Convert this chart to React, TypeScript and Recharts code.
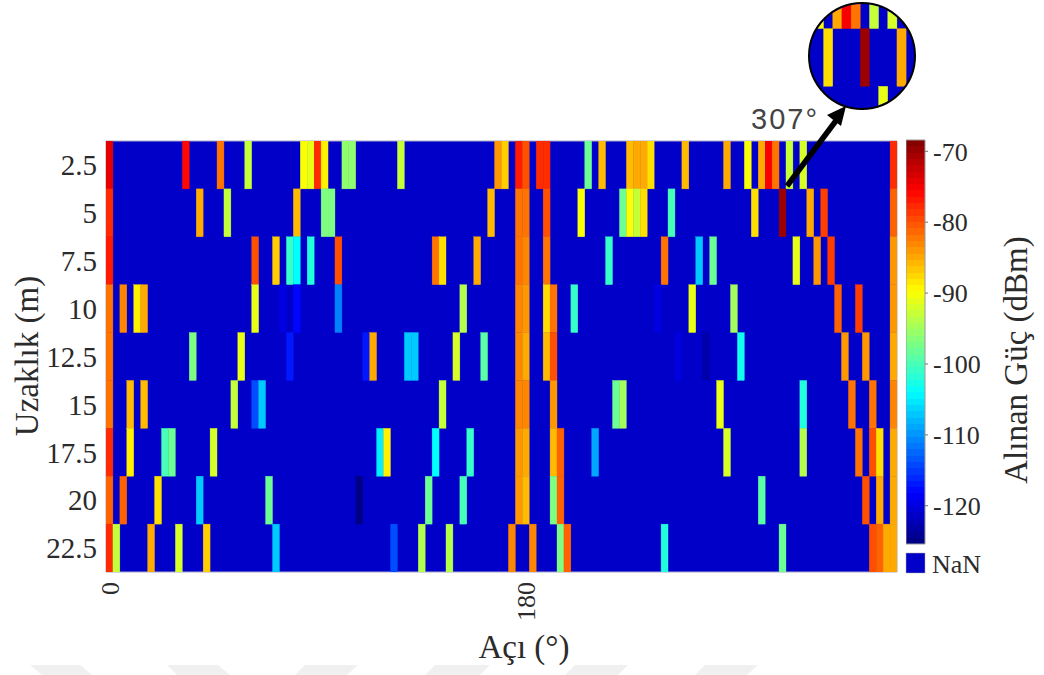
import React from "react";
import { ScatterChart, Scatter, XAxis, YAxis, ReferenceArea } from "recharts";

type Reading = [number, number]; // [angle cell index, received power in dBm]

const ANGLE_STEP = 3;
const CELL_COUNT = 114;
const RANGE_TICKS = [2.5, 5, 7.5, 10, 12.5, 15, 17.5, 20, 22.5];
const ANGLE_TICKS = [0, 180];
const POWER_TICKS = [-70, -80, -90, -100, -110, -120];
const POWER_MIN = -125.4;
const POWER_MAX = -68.4;
const NAN_COLOR = "#0000c8";

const row2_5: Reading[] = [[0,-74],[11,-76],[16,-82],[20,-93],[28,-90],[29,-91],[30,-78],[31,-89],[34,-96],[35,-96],[42,-93],[56,-84],[57,-87],[59,-77],[60,-80],[62,-78],[63,-78],[69,-98],[71,-86],[75,-86],[76,-85],[77,-85],[78,-88],[83,-86],[89,-85],[92,-90],[94,-85],[95,-75],[96,-82],[98,-93],[100,-92],[113,-78]];
const row5: Reading[] = [[0,-78],[13,-85],[17,-93],[27,-86],[31,-97],[32,-97],[55,-86],[59,-82],[60,-82],[63,-80],[68,-90],[74,-98],[75,-90],[76,-93],[77,-88],[81,-100],[93,-88],[97,-70],[101,-85],[103,-79],[113,-81]];
const row7_5: Reading[] = [[0,-77],[21,-80],[24,-87],[26,-101],[27,-104],[29,-102],[33,-80],[47,-82],[48,-88],[53,-85],[59,-82],[60,-83],[63,-82],[72,-101],[80,-82],[85,-107],[87,-98],[99,-91],[102,-84],[104,-79],[113,-84]];
const row10: Reading[] = [[0,-82],[2,-83],[4,-89],[5,-85],[21,-91],[25,-120],[27,-118],[33,-111],[51,-94],[59,-83],[60,-84],[63,-88],[64,-82],[67,-101],[79,-120],[84,-91],[90,-95],[105,-81],[108,-79],[113,-84]];
const row12_5: Reading[] = [[0,-82],[12,-97],[19,-91],[26,-117],[37,-117],[38,-85],[43,-107],[44,-107],[50,-92],[54,-99],[59,-83],[60,-85],[63,-86],[64,-80],[82,-120],[86,-123],[91,-103],[106,-84],[109,-84],[113,-85]];
const row15: Reading[] = [[0,-82],[3,-86],[5,-86],[18,-93],[21,-114],[22,-107],[48,-93],[59,-83],[60,-83],[64,-84],[73,-98],[74,-95],[88,-91],[100,-102],[107,-82],[110,-82],[113,-83]];
const row17_5: Reading[] = [[0,-78],[3,-89],[8,-100],[9,-98],[15,-92],[39,-105],[40,-89],[47,-104],[52,-101],[59,-84],[60,-85],[64,-86],[65,-81],[70,-109],[89,-92],[100,-94],[108,-82],[110,-80],[111,-88],[113,-85]];
const row20: Reading[] = [[0,-81],[2,-81],[7,-88],[13,-107],[23,-98],[36,-125],[46,-98],[51,-100],[59,-84],[60,-86],[64,-97],[65,-81],[94,-99],[109,-80],[111,-85],[113,-85]];
const row22_5: Reading[] = [[0,-78],[1,-93],[6,-85],[10,-92],[14,-87],[24,-107],[41,-114],[45,-94],[49,-94],[58,-83],[61,-83],[65,-97],[66,-81],[80,-102],[97,-98],[110,-80],[111,-81],[112,-85],[113,-85]];

const ROWS: Reading[][] = [row2_5, row5, row7_5, row10, row12_5, row15, row17_5, row20, row22_5];

const cells = ROWS.flatMap((row, r) =>
  row.map(([i, v]) => ({ angle: i * ANGLE_STEP, range: RANGE_TICKS[r], power: v }))
);

function jet(t: number): string {
  const c = (x: number) => Math.round(255 * Math.max(0, Math.min(1, x)));
  const r = c(Math.min(4 * t - 1.5, -4 * t + 4.5));
  const g = c(Math.min(4 * t - 0.5, -4 * t + 3.5));
  const b = c(Math.min(4 * t + 0.5, -4 * t + 2.5));
  return `rgb(${r},${g},${b})`;
}
const powerColor = (v: number) => jet((v - POWER_MIN) / (POWER_MAX - POWER_MIN));

const BAND_COUNT = 64;
const jetBands = Array.from({ length: BAND_COUNT }, (_, i) => i);

const SERIF = '"Liberation Serif", "Times New Roman", serif';
const SANS = '"Liberation Sans", Arial, sans-serif';
const TEXT = "#2b2b2b";

const cellShape = (w: number, h: number) => (p: any) => {
  const fill = powerColor(p.payload.power);
  return (
    <rect
      x={p.cx - w / 2}
      y={p.cy - h / 2}
      width={w}
      height={h}
      fill={fill}
      stroke={fill}
      strokeWidth={0.35}
    />
  );
};

const AngleTick = (p: any) => (
  <text
    transform={`translate(${p.x + 1},${582}) rotate(-90)`}
    textAnchor="end"
    dominantBaseline="central"
    fontFamily={SERIF}
    fontSize={26}
    fill={TEXT}
  >
    {p.payload.value}
  </text>
);

const MAIN_W = 791;
const MAIN_H = 431;
const cellW = MAIN_W / CELL_COUNT;
const cellH = MAIN_H / RANGE_TICKS.length;

function MainChart() {
  return (
    <ScatterChart
      width={1044}
      height={675}
      margin={{ top: 141, left: 36, right: 147, bottom: 63 }}
    >
      <XAxis
        type="number"
        dataKey="angle"
        domain={[-1.5, (CELL_COUNT - 0.5) * ANGLE_STEP]}
        ticks={ANGLE_TICKS}
        tick={AngleTick}
        tickLine={false}
        axisLine={false}
        height={40}
        interval={0}
        allowDataOverflow
      />
      <YAxis
        type="number"
        dataKey="range"
        reversed
        domain={[1.25, 23.75]}
        ticks={RANGE_TICKS}
        width={70}
        tickLine={false}
        axisLine={false}
        interval={0}
        tick={{ fontFamily: SERIF, fontSize: 29, fill: TEXT }}
        tickMargin={3}
        allowDataOverflow
      />
      <ReferenceArea
        x1={-1.5}
        x2={(CELL_COUNT - 0.5) * ANGLE_STEP}
        y1={1.25}
        y2={23.75}
        fill={NAN_COLOR}
        fillOpacity={1}
        stroke="#a8a8c8"
        strokeWidth={1}
      />
      <Scatter data={cells} isAnimationActive={false} shape={cellShape(cellW, cellH)} />
    </ScatterChart>
  );
}

function ColorBar() {
  const bandStops = jetBands.flatMap((i) => {
    const color = jet(1 - (i + 0.5) / BAND_COUNT);
    return [
      <stop key={`${i}a`} offset={i / BAND_COUNT} stopColor={color} />,
      <stop key={`${i}b`} offset={(i + 1) / BAND_COUNT} stopColor={color} />,
    ];
  });
  return (
    <ScatterChart
      width={100}
      height={424}
      margin={{ top: 10, left: 0, right: 0, bottom: 10 }}
    >
      <defs>
        <linearGradient id="jetBar" x1="0" y1="0" x2="0" y2="1">
          {bandStops}
        </linearGradient>
      </defs>
      <XAxis type="number" dataKey="x" domain={[0, 1]} hide />
      <YAxis
        type="number"
        dataKey="y"
        orientation="right"
        domain={[POWER_MIN, POWER_MAX]}
        ticks={POWER_TICKS}
        width={81}
        tickSize={3}
        tickMargin={5}
        interval={0}
        axisLine={false}
        tickLine={{ stroke: "#777" }}
        tick={{ fontFamily: SERIF, fontSize: 26, fill: TEXT }}
        allowDataOverflow
      />
      <ReferenceArea
        x1={0}
        x2={1}
        y1={POWER_MIN}
        y2={POWER_MAX}
        fill="url(#jetBar)"
        fillOpacity={1}
        stroke="#999"
        strokeWidth={1}
      />
      <Scatter data={[{ x: 0, y: POWER_MIN }]} isAnimationActive={false} shape={() => <g />} />
    </ScatterChart>
  );
}

const INSET_SIZE = 104;
const INSET_CELL_W = 9.17;
const INSET_CELL_H = 57.7;

function Inset() {
  return (
    <div
      style={{
        position: "absolute",
        left: 808,
        top: 2,
        width: INSET_SIZE,
        height: INSET_SIZE,
        borderRadius: "50%",
        border: "2px solid #000",
        overflow: "hidden",
        background: NAN_COLOR,
      }}
    >
      <ScatterChart width={INSET_SIZE} height={INSET_SIZE} margin={{ top: 0, left: 0, right: 0, bottom: 0 }}>
        <XAxis type="number" dataKey="angle" domain={[273.06, 307.08]} hide allowDataOverflow />
        <YAxis type="number" dataKey="range" reversed domain={[2.684, 7.19]} hide allowDataOverflow />
        <Scatter data={cells} isAnimationActive={false} shape={cellShape(INSET_CELL_W, INSET_CELL_H)} />
      </ScatterChart>
    </div>
  );
}

const watermark = [
  "30,665 80,665 92,675 42,675",
  "167,665 218,665 230,675 177,675",
  "305,665 358,665 347,675 295,675",
  "435,665 490,665 480,675 425,675",
  "575,665 628,665 618,675 565,675",
  "705,665 758,665 747,675 695,675",
];

function Overlay() {
  return (
    <svg
      width={1044}
      height={675}
      style={{ position: "absolute", left: 0, top: 0, pointerEvents: "none" }}
    >
      {watermark.map((pts) => (
        <polygon key={pts} points={pts} fill="#f0f0f0" />
      ))}
      <text
        transform="translate(27,356) rotate(-90)"
        textAnchor="middle"
        dominantBaseline="central"
        fontFamily={SERIF}
        fontSize={33}
        fill={TEXT}
      >
        Uzaklık (m)
      </text>
      <text x={524} y={658} textAnchor="middle" fontFamily={SERIF} fontSize={33} fill={TEXT}>
        Açı (°)
      </text>
      <text
        transform="translate(1016,360) rotate(-90)"
        textAnchor="middle"
        dominantBaseline="central"
        fontFamily={SERIF}
        fontSize={33}
        fill={TEXT}
      >
        Alınan Güç (dBm)
      </text>
      <rect x={906} y={553} width={19} height={20} fill={NAN_COLOR} stroke="#aaa" strokeWidth={0.5} />
      <text x={932} y={573} fontFamily={SERIF} fontSize={26} fill={TEXT}>
        NaN
      </text>
      <text x={751} y={129} fontFamily={SANS} fontSize={29} fill="#444" letterSpacing={2}>
        307°
      </text>
      <line x1={787} y1={186} x2={838} y2={118} stroke="#000" strokeWidth={5.5} />
      <polygon points="846,106 827,115 841,126" fill="#000" />
    </svg>
  );
}

export default function App() {
  return (
    <div style={{ position: "absolute", left: 0, top: 0, width: 1044, height: 675, background: "#fff", overflow: "hidden" }}>
      <div style={{ position: "absolute", left: 0, top: 0 }}>
        <MainChart />
      </div>
      <div style={{ position: "absolute", left: 906, top: 130 }}>
        <ColorBar />
      </div>
      <Overlay />
      <Inset />
    </div>
  );
}
